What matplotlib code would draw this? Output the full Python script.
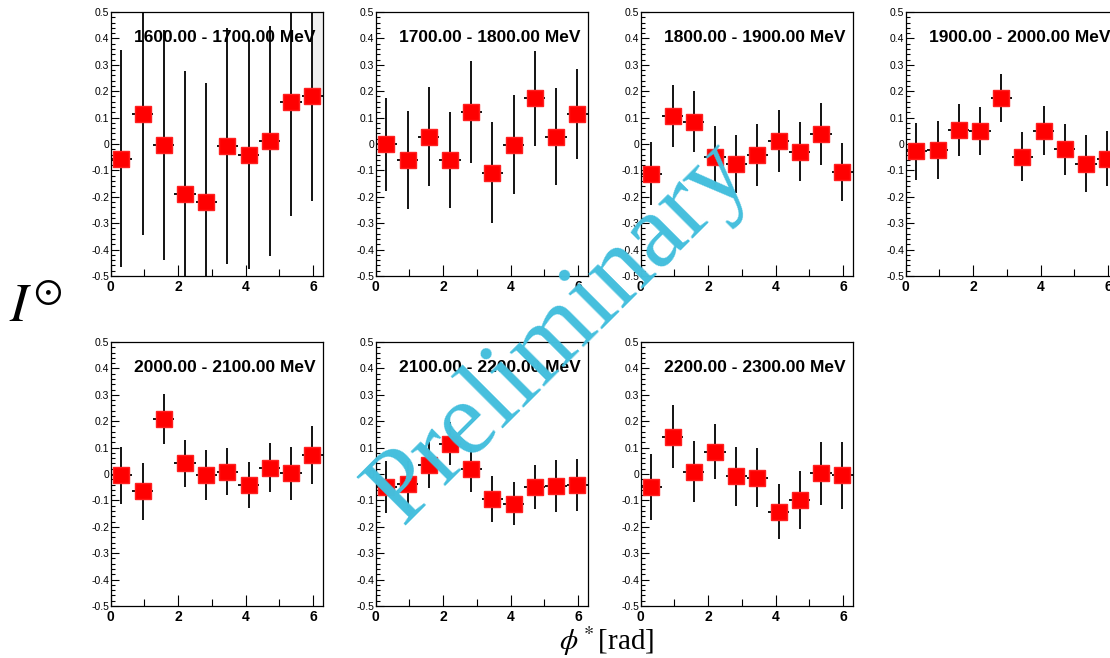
import numpy as np
import matplotlib.pyplot as plt
from matplotlib.ticker import MultipleLocator

# 10 bins in phi* over [0, 2pi]
phi = (np.arange(10) + 0.5) * 2 * np.pi / 10
half_bin = np.pi / 10

titles = ["1600.00 - 1700.00 MeV", "1700.00 - 1800.00 MeV", "1800.00 - 1900.00 MeV",
          "1900.00 - 2000.00 MeV", "2000.00 - 2100.00 MeV", "2100.00 - 2200.00 MeV",
          "2200.00 - 2300.00 MeV"]

i_1600 = [-0.055, 0.113, -0.004, -0.189, -0.221, -0.008, -0.041, 0.011, 0.160, 0.183]
e_1600 = [0.41, 0.457, 0.435, 0.464, 0.451, 0.448, 0.434, 0.437, 0.432, 0.40]

i_1700 = [-0.001, -0.060, 0.028, -0.060, 0.122, -0.109, -0.003, 0.174, 0.028, 0.115]
e_1700 = [0.177, 0.185, 0.187, 0.183, 0.193, 0.192, 0.188, 0.180, 0.183, 0.170]

i_1800 = [-0.112, 0.107, 0.084, -0.048, -0.075, -0.042, 0.011, -0.029, 0.038, -0.105]
e_1800 = [0.120, 0.117, 0.116, 0.115, 0.110, 0.116, 0.116, 0.112, 0.118, 0.110]

i_1900 = [-0.027, -0.024, 0.053, 0.050, 0.175, -0.048, 0.051, -0.020, -0.075, -0.055]
e_1900 = [0.108, 0.110, 0.097, 0.090, 0.090, 0.094, 0.092, 0.097, 0.108, 0.104]

i_2000 = [-0.004, -0.065, 0.208, 0.041, -0.003, 0.009, -0.042, 0.024, 0.003, 0.071]
e_2000 = [0.108, 0.108, 0.094, 0.089, 0.094, 0.089, 0.088, 0.092, 0.101, 0.109]

i_2100 = [-0.049, -0.039, 0.033, 0.115, 0.018, -0.094, -0.113, -0.049, -0.046, -0.042]
e_2100 = [0.100, 0.090, 0.087, 0.082, 0.086, 0.088, 0.082, 0.083, 0.098, 0.100]

i_2200 = [-0.048, 0.142, 0.009, 0.085, -0.009, -0.014, -0.143, -0.099, 0.003, -0.004]
e_2200 = [0.125, 0.119, 0.115, 0.105, 0.111, 0.112, 0.105, 0.110, 0.120, 0.127]

values = [i_1600, i_1700, i_1800, i_1900, i_2000, i_2100, i_2200]
errors = [e_1600, e_1700, e_1800, e_1900, e_2000, e_2100, e_2200]

y_ticks = np.round(np.arange(-0.5, 0.51, 0.1), 1) + 0.0
y_labels = [f"{v:g}" for v in y_ticks]

W, H = 1110, 658
fig = plt.figure(figsize=(W / 100, H / 100), dpi=100)

lefts = [110.7, 375.7, 640.7, 905.7]
tops = [12, 342]
aw, ah = 212, 264

for k in range(7):
    row, col = divmod(k, 4)
    ax = fig.add_axes([lefts[col] / W, 1 - (tops[row] + ah) / H, aw / W, ah / H])

    if k == 0:
        # light grey box in the corner of the first panel
        ax.fill_between([phi[-1], 2 * np.pi], values[k][-1], 0.5,
                        color="#efefef", lw=0, zorder=0)

    ax.errorbar(phi, values[k], yerr=errors[k], xerr=half_bin, fmt="s",
                color="#ff0000", mec="#ff2020", ms=11.5, ecolor="black",
                elinewidth=1.3, capsize=0, zorder=3)

    ax.set_xlim(0, 2 * np.pi)
    ax.set_ylim(-0.5, 0.5)
    ax.xaxis.set_major_locator(MultipleLocator(2))
    ax.xaxis.set_minor_locator(MultipleLocator(1))
    ax.yaxis.set_minor_locator(MultipleLocator(0.02))
    ax.set_yticks(y_ticks)
    ax.set_yticklabels(y_labels)
    ax.tick_params(axis="both", which="both", direction="in", top=False, right=False)
    ax.tick_params(axis="x", which="major", length=8, width=0.8, labelsize=10, pad=3)
    ax.tick_params(axis="x", which="minor", length=5, width=0.8)
    ax.tick_params(axis="y", which="major", length=6, width=0.8, labelsize=7.5, pad=1)
    ax.tick_params(axis="y", which="minor", length=3, width=0.8)
    for lab in ax.get_xticklabels():
        lab.set_fontweight("bold")
        lab.set_family("Liberation Sans")
    for lab in ax.get_yticklabels():
        lab.set_family("Liberation Sans")
    for s in ax.spines.values():
        s.set_linewidth(0.9)

    ax.text(0.965, 0.905, titles[k], transform=ax.transAxes, ha="right", va="center",
            fontsize=12.5, fontweight="bold", family="Liberation Sans")

fig.text(36 / W, 1 - 309 / H, r"$I^{\odot}$", fontsize=39, ha="center", va="center",
         family="Liberation Serif", math_fontfamily="stix")
fig.text(607 / W, 1 - 641 / H, r"$\phi^*$[rad]", fontsize=21, ha="center", va="center",
         family="Liberation Serif", math_fontfamily="stix")

fig.text(560 / W, 1 - 333 / H, "Preliminary", fontsize=75.5, rotation=45,
         ha="center", va="center", rotation_mode="anchor", color="#45bfdd",
         family="Liberation Serif", zorder=10)

fig.savefig("out.png", dpi=100)
